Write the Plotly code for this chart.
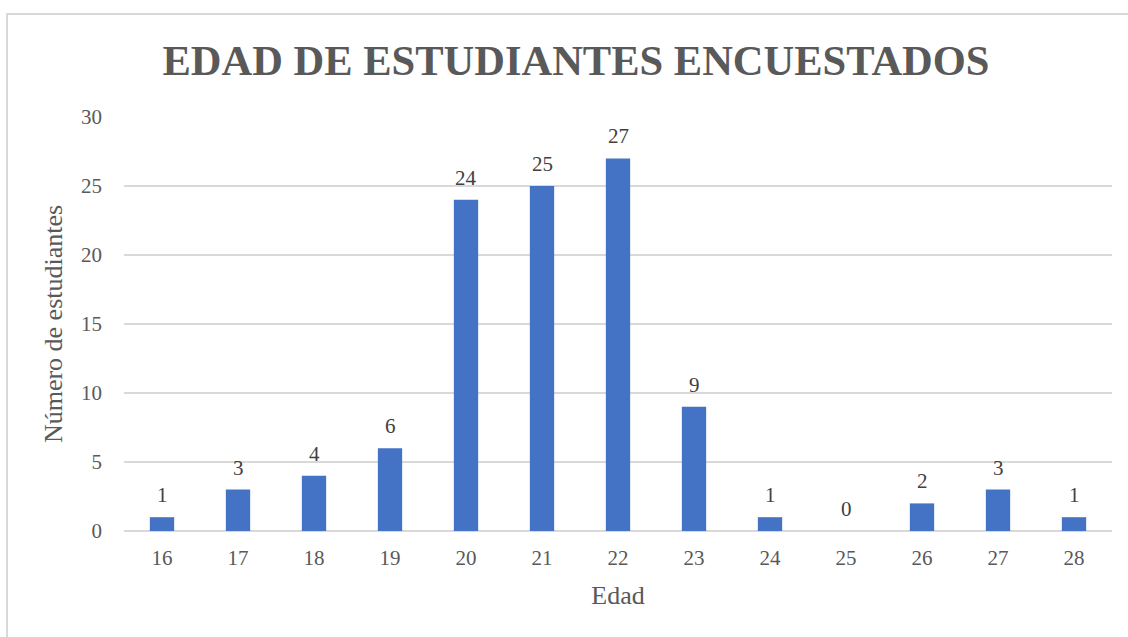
import plotly.graph_objects as go

edades = ["16", "17", "18", "19", "20", "21", "22", "23", "24", "25", "26", "27", "28"]
estudiantes = [1, 3, 4, 6, 24, 25, 27, 9, 1, 0, 2, 3, 1]
y_ticks = [0, 5, 10, 15, 20, 25, 30]

W, H = 1128, 637
L, R, T, B = 124, 16, 117, 106
pw, ph = W - L - R, H - T - B

fig = go.Figure(go.Bar(
    x=edades, y=estudiantes,
    marker=dict(color="#4472C4", line=dict(width=0)),
    cliponaxis=False,
))

annotations = [
    dict(x=i, y=v, xref="x", yref="y", text=str(v), showarrow=False,
         yanchor="bottom", yshift=8,
         font=dict(family="Liberation Serif", size=21, color="#404040"))
    for i, v in enumerate(estudiantes)
]

fig.update_layout(
    width=W, height=H,
    margin=dict(l=L, r=R, t=T, b=B),
    paper_bgcolor="white", plot_bgcolor="white",
    bargap=0.68,
    showlegend=False,
    annotations=annotations,
    title=dict(
        text="<b>EDAD DE ESTUDIANTES ENCUESTADOS</b>",
        font=dict(family="Liberation Serif", size=42.5, color="#595959"),
        x=576 / W, xanchor="center",
        y=1 - 60 / H, yanchor="middle", yref="container",
    ),
    xaxis=dict(
        type="category",
        title=dict(text="Edad", font=dict(family="Liberation Serif", size=26, color="#595959"), standoff=16),
        tickfont=dict(family="Liberation Serif", size=21, color="#595959"),
        showgrid=False, showline=False, zeroline=False, ticks="",
        ticklabelstandoff=12,
    ),
    yaxis=dict(
        title=dict(text="Número de estudiantes", font=dict(family="Liberation Serif", size=26, color="#595959"), standoff=10),
        tickfont=dict(family="Liberation Serif", size=21, color="#595959"),
        range=[0, 30], tickvals=y_ticks,
        showgrid=True, gridcolor="#d9d9d9", gridwidth=1.5,
        zeroline=True, zerolinecolor="#d9d9d9", zerolinewidth=1.5,
        showline=False, ticks="", ticklabelstandoff=21,
    ),
    shapes=[dict(
        type="rect", xref="paper", yref="paper",
        x0=(7 - L) / pw, x1=(W + 20 - L) / pw,
        y0=-(H + 20 - T - ph) / ph, y1=(H - 14 - B) / ph,
        line=dict(color="#d9d9d9", width=2), fillcolor="rgba(0,0,0,0)", layer="below",
    )],
)

fig.write_html("out.html")
